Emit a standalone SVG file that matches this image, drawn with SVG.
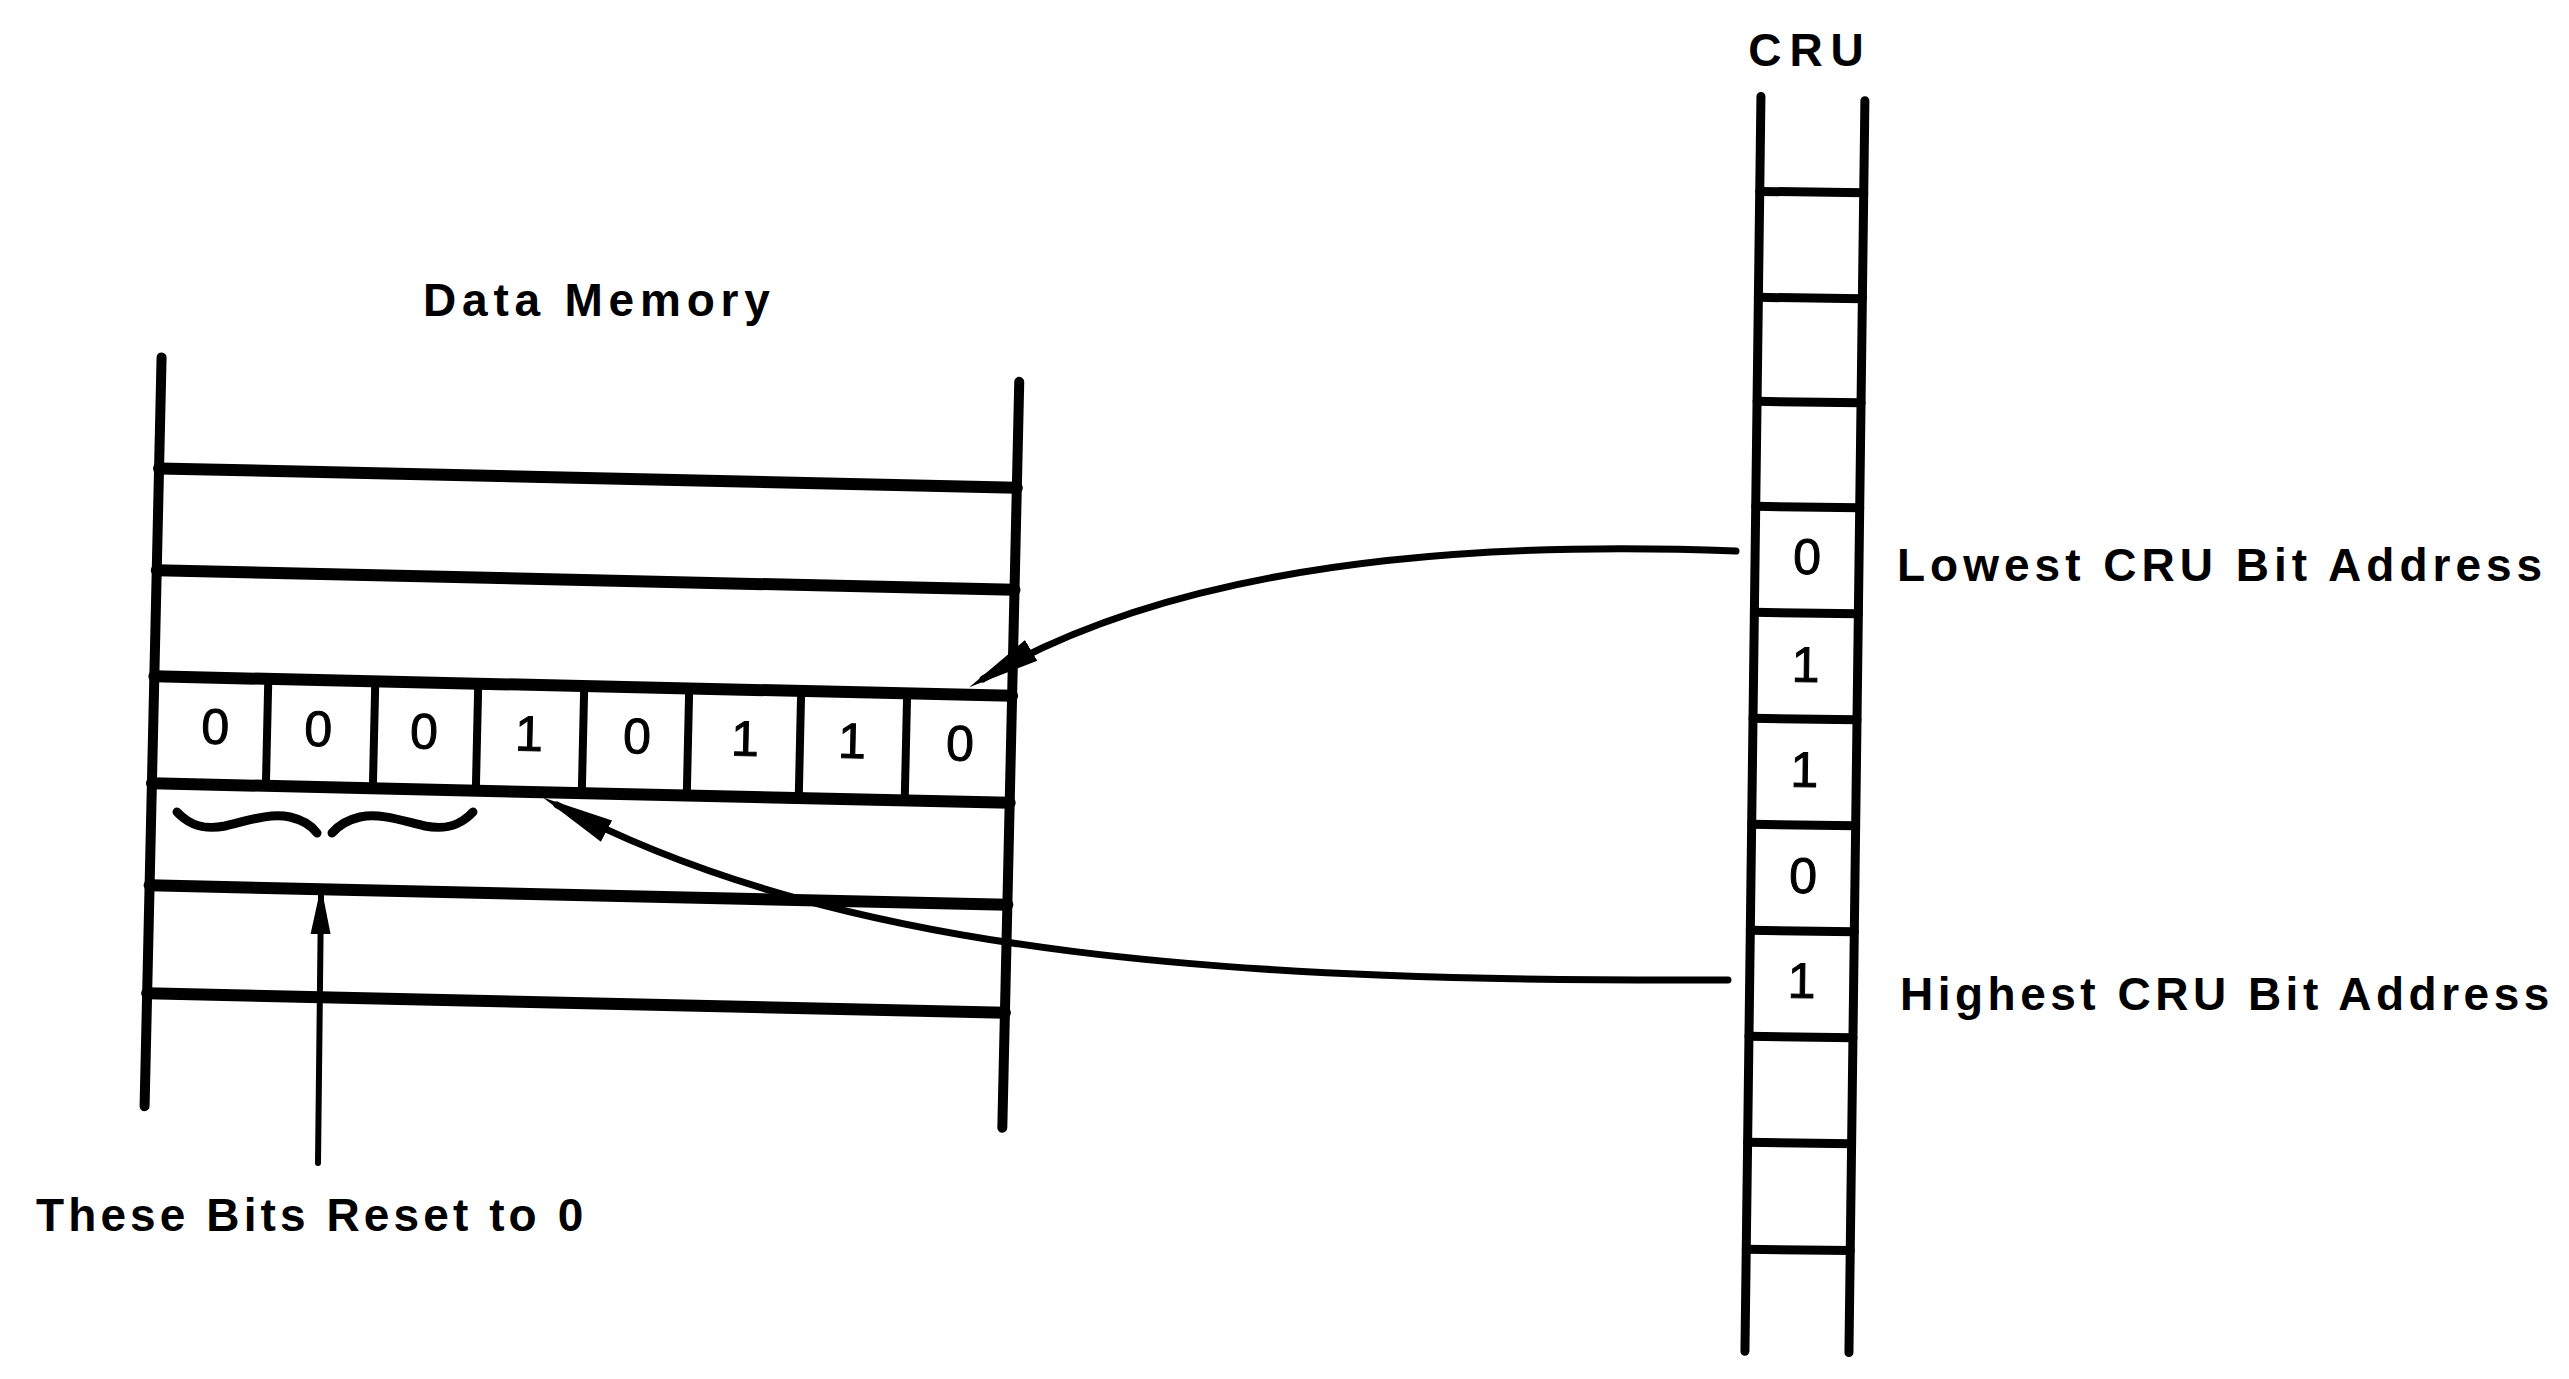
<svg xmlns="http://www.w3.org/2000/svg" width="2569" height="1379" viewBox="0 0 2569 1379">
<style>
.ln{stroke:#000;fill:none;stroke-linecap:round}
.hv{stroke-width:12}
.vt{stroke-width:10}
.dv{stroke-width:8;stroke-linecap:butt}
.cr{stroke-width:9}
.cv{stroke-width:7}
.lbl{font-family:"Liberation Sans",Arial,sans-serif;font-weight:bold;font-size:46px;fill:#000}
.dig{font-family:"Liberation Sans",Arial,sans-serif;font-weight:normal;font-size:50px;fill:#000;stroke:#000;stroke-width:1;text-anchor:middle}
</style>
<defs>
<marker id="ah" markerUnits="userSpaceOnUse" markerWidth="72" markerHeight="30" viewBox="0 0 72 30" refX="56" refY="15" orient="auto"><path d="M0,3 L72,15 L0,27 Z" fill="#000"/></marker>
<marker id="ah2" markerUnits="userSpaceOnUse" markerWidth="48" markerHeight="24" viewBox="0 0 48 24" refX="38" refY="12" orient="auto"><path d="M0,2 L48,12 L0,22 Z" fill="#000"/></marker>
</defs>
<rect x="0" y="0" width="2569" height="1379" fill="#fff"/>

<g id="data-memory">
<text class="lbl" x="423" y="316" style="letter-spacing:5.8px">Data Memory</text>
<g transform="rotate(1.3 580 740)">
<path class="ln vt" d="M153,367 V1116 M1011,372 V1118"/>
<path class="ln hv" d="M153,478 H1011 M153,580 H1011 M153,686 H1011 M153,793 H1011 M153,895 H1011 M153,1003 H1011"/>
<path class="ln dv" d="M267,686 V793 M374,686 V793 M477,686 V793 M583,686 V793 M688,686 V793 M800,686 V793 M906,686 V793"/>
<g id="bits">
<text class="dig" x="215" y="752">0</text>
<text class="dig" x="318" y="752">0</text>
<text class="dig" x="424" y="752">0</text>
<text class="dig" x="529" y="752">1</text>
<text class="dig" x="637" y="752">0</text>
<text class="dig" x="745" y="752">1</text>
<text class="dig" x="852" y="752">1</text>
<text class="dig" x="960" y="752">0</text>
</g>
</g>
</g>

<g id="cru">
<text class="lbl" x="1810" y="66" text-anchor="middle" style="letter-spacing:8px">CRU</text>
<g transform="rotate(0.73 1805 720)">
<path class="ln cr" d="M1753,97 V1352 M1857,100 V1352"/>
<path class="ln cr" d="M1753,192 H1857 M1753,298 H1857 M1753,402 H1857 M1753,507 H1857 M1753,613 H1857 M1753,719 H1857 M1753,825 H1857 M1753,931 H1857 M1753,1037 H1857 M1753,1143 H1857 M1753,1250 H1857"/>
<text class="dig" x="1805" y="574">0</text>
<text class="dig" x="1805" y="682">1</text>
<text class="dig" x="1805" y="787">1</text>
<text class="dig" x="1805" y="893">0</text>
<text class="dig" x="1805" y="998">1</text>
</g>
</g>

<g id="labels">
<text class="lbl" x="1897" y="581" style="letter-spacing:5px">Lowest CRU Bit Address</text>
<text class="lbl" x="1900" y="1010" style="letter-spacing:4.5px">Highest CRU Bit Address</text>
<text class="lbl" x="36" y="1231" style="letter-spacing:4.1px">These Bits Reset to 0</text>
</g>

<g id="brace">
<path class="ln" stroke-width="9" d="M177,812 C190,826 205,830 225,826 C250,820 270,813 290,817 C303,820 312,826 317,833"/>
<path class="ln" stroke-width="9" d="M332,833 C338,826 347,820 360,817 C380,813 400,820 425,826 C445,830 460,826 473,812"/>
</g>

<g id="connectors">
<path class="ln cv" d="M1736,551 C1400,538 1150,580 983,679" marker-end="url(#ah)"/>
<path class="ln cv" d="M1728,980 C1250,982 850,960 557,805" marker-end="url(#ah)"/>
<path class="ln" stroke-width="6" d="M318,1163 L321,896" marker-end="url(#ah2)"/>
</g>
</svg>
